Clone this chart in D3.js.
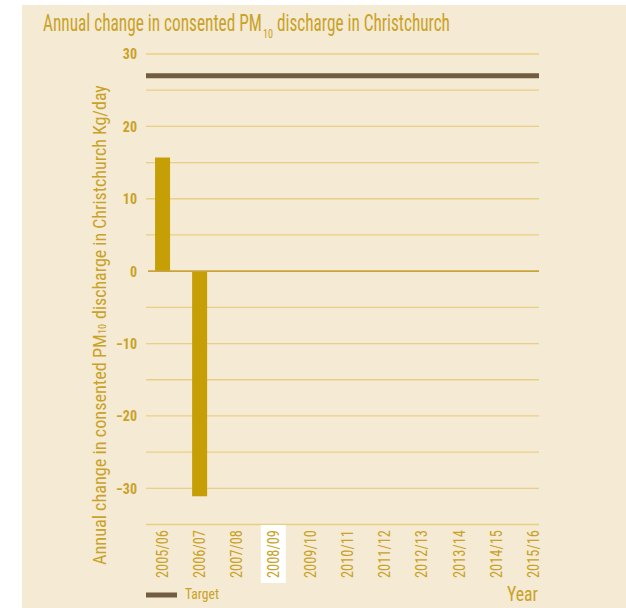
<!DOCTYPE html>
<html><head><meta charset="utf-8">
<script src="https://cdn.jsdelivr.net/npm/d3@7"></script>
<style>
html,body{margin:0;padding:0;background:#fff;}
svg{display:block;}
text{font-family:"Liberation Sans Narrow","Roboto Condensed","Arial Narrow",Roboto,sans-serif;}
</style></head>
<body>
<script>
const categories = ["2005/06","2006/07","2007/08","2008/09","2009/10","2010/11","2011/12","2012/13","2013/14","2014/15","2015/16"];
const values = [15.7, -31.1, null, null, null, null, null, null, null, null, null];
const target = 27;
const yTicks = [30, 20, 10, 0, -10, -20, -30];
const gridValues = [30, 25, 20, 15, 10, 5, -5, -10, -15, -20, -25, -30, -35];

const W = 626, H = 608;
const gold = "#C9A227", barCol = "#C69F06", gridCol = "#E9CF85", targetCol = "#735D42", bg = "#F5EAD3";

const svg = d3.select("body").append("svg").attr("width", W).attr("height", H);
svg.append("rect").attr("x", 22).attr("y", 5).attr("width", W - 22).attr("height", H - 5).attr("fill", bg);

// place a text condensed horizontally to a given width (rot = rotation in degrees)
function fitText(parent, str, px, py, width, size, opts = {}) {
  const t = parent.append("text").attr("fill", gold).attr("font-size", size)
    .attr("text-anchor", "start")
    .attr("font-weight", opts.weight || "normal").text(str);
  const len = t.node().getComputedTextLength();
  const sx = width / len;
  const dx = opts.anchor === "end" ? -len : 0;
  t.attr("x", dx).attr("y", 0);
  if (opts.dy) t.attr("dy", opts.dy);
  t.attr("transform", `translate(${px},${py}) rotate(${opts.rot || 0}) scale(${sx},1)`);
  return t;
}

const y = d3.scaleLinear().domain([-35, 30]).range([524.5, 54]);
const x = d3.scaleBand().domain(categories).range([143.5, 551.5]).padding(0);
const gx0 = 146, gx1 = 539;
const barW = 15;

// gridlines
svg.append("g").selectAll("line").data(gridValues).join("line")
  .attr("x1", gx0).attr("x2", gx1)
  .attr("y1", d => y(d)).attr("y2", d => y(d))
  .attr("stroke", gridCol).attr("stroke-width", 1.3);

// target line
svg.append("line").attr("x1", gx0).attr("x2", gx1)
  .attr("y1", y(target)).attr("y2", y(target))
  .attr("stroke", targetCol).attr("stroke-width", 5);

// bars
svg.append("g").selectAll("rect").data(categories.map((c, i) => ({c, v: values[i]})).filter(d => d.v != null)).join("rect")
  .attr("x", d => x(d.c) + x.bandwidth() / 2 - barW / 2 + 0.5)
  .attr("width", barW)
  .attr("y", d => y(Math.max(0, d.v)))
  .attr("height", d => Math.abs(y(d.v) - y(0)))
  .attr("fill", barCol);

// zero line
svg.append("line").attr("x1", 148).attr("x2", gx1)
  .attr("y1", y(0)).attr("y2", y(0))
  .attr("stroke", "#C9A43A").attr("stroke-width", 1.6);

// y tick labels
const yAxis = d3.axisLeft(y).tickValues(yTicks).tickSize(0).tickPadding(0).tickFormat(d3.format("d"));
const ga = svg.append("g").attr("transform", "translate(137,0)").call(yAxis);
ga.select(".domain").remove();
ga.selectAll("text").attr("fill", gold).attr("font-size", 14).attr("font-weight", "bold").attr("dy", "0.35em");

// x labels
const hl = "2008/09";
svg.append("rect").attr("x", x(hl) + x.bandwidth()/2 - 12.5).attr("y", 525).attr("width", 25).attr("height", 58).attr("fill", "#fff");
const xAxis = d3.axisBottom(x).tickSize(0).tickPadding(0).tickFormat(() => "");
const gxa = svg.append("g").attr("transform", "translate(0,530)").call(xAxis);
gxa.select(".domain").remove();
gxa.selectAll(".tick").each(function(d) {
  const g = d3.select(this);
  g.select("text").remove();
  fitText(g, d, 0, 0, 48, 16.5, {rot: -90, anchor: "end", dy: "0.35em"});
});

// title (three separate pieces)
fitText(svg, "Annual change in consented PM", 43, 30.5, 219, 23.5);
fitText(svg, "10", 263, 38, 10, 12);
fitText(svg, "discharge in Christchurch", 277, 30.5, 173, 23.5);

// y axis label
fitText(svg, "Annual change in consented PM", 106, 565, 231, 18.5, {rot: -90});
fitText(svg, "10", 106, 334, 10, 10.5, {rot: -90});
fitText(svg, "discharge in Christchurch Kg/day", 106, 319, 234, 18.5, {rot: -90});

// legend
svg.append("line").attr("x1", 146).attr("x2", 177).attr("y1", 595).attr("y2", 595).attr("stroke", targetCol).attr("stroke-width", 5);
fitText(svg, "Target", 185, 598.5, 34, 14);

// Year
fitText(svg, "Year", 538, 600.5, 31, 20, {anchor: "end"});
</script>
</body></html>
